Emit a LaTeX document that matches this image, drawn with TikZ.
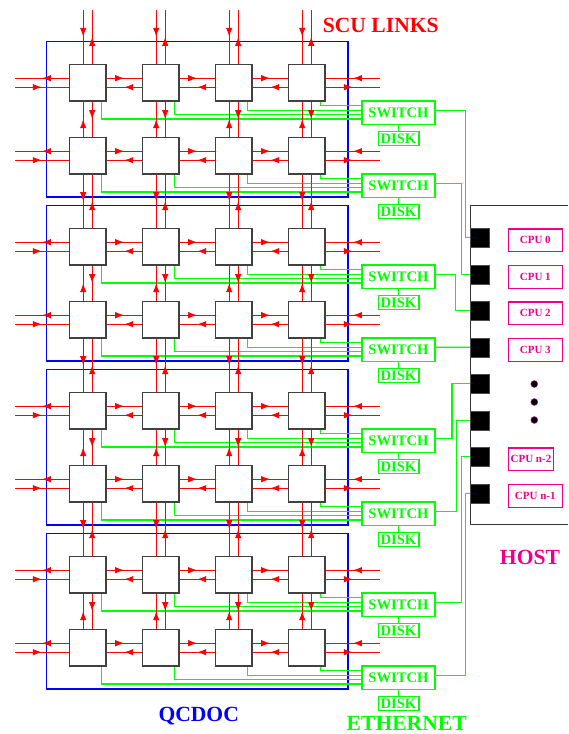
\documentclass[tikz,border=0pt]{standalone}
\usepackage{fontspec}
\setmainfont{Liberation Serif}
\usetikzlibrary{positioning,fit,calc,arrows.meta,decorations.markings}
\tikzset{cell/.style={draw=black!75,fill=white,line width=1.3pt,minimum size=36.7pt,inner sep=0pt},
         scu/.style={red,line width=1pt,postaction={decorate},
           decoration={markings,mark=at position .5 with {\arrow[red,line width=1pt]{Latex[length=9pt,width=6.5pt]}}}},
         eth/.style={green,line width=1.3pt},
         board/.style={draw=blue,line width=1.3pt,inner sep=22.3pt},
         switchbox/.style={draw=green,line width=1.3pt,text=green,fill=white,inner sep=0pt,
           font=\fontsize{14.6}{16}\selectfont\bfseries,minimum width=73pt,minimum height=23.3pt},
         diskbox/.style={draw=green,line width=1.3pt,text=green,inner sep=0pt,
           font=\fontsize{14.6}{16}\selectfont\bfseries,minimum width=40.7pt,minimum height=14pt},
         hostport/.style={fill=black,draw=black!70,minimum size=19pt,inner sep=0pt},
         cpubox/.style={draw=magenta,line width=1.2pt,text=magenta,inner sep=0pt,
           font=\fontsize{11}{12}\selectfont\bfseries,minimum width=54.4pt,minimum height=22.7pt},
         dotnode/.style={circle,fill=black,draw=magenta,minimum size=7pt,inner sep=0pt},
         bigtext/.style={font=\fontsize{21.6}{24}\selectfont\bfseries,anchor=base}
}

\begin{document}
\begin{tikzpicture}[x=1pt,y=-1pt]
\useasboundingbox (0,0) rectangle (568,734);

% nodes, two rows per board, one switch per row
\foreach \R [evaluate=\R as \yc using {82.7+164*floor(\R/2)+73*mod(\R,2)}] in {0,...,7}{
  \foreach \c in {0,...,3}{
    \node[cell] (n\R\c) at ({87.7+73*\c},\yc) {};
  }
  \node[switchbox] (sw\R) at (398.5,\yc+30) {SWITCH};
  \node[diskbox,below=5.7pt of sw\R] (dk\R) {DISK};
  \draw[eth] (sw\R) -- (dk\R);
}

% boards
\foreach \b [evaluate=\b as \bt using int(2*\b), evaluate=\b as \bb using int(2*\b+1)] in {0,...,3}{
  \node[board,fit=(n\bt0)(n\bb3)] (qc\b) {};
}

% ethernet to the switches
\foreach \R in {0,...,7}{
  \foreach \c [evaluate=\c as \dy using {4.4*\c-6.3}] in {0,...,3}{
    \draw[eth] ([xshift=13.6pt]n\R\c.south) |- ([yshift=\dy pt]sw\R.west);
  }
}

% scu links, rows
\foreach \R in {0,...,7}{
  \coordinate (lft\R) at (15,0 |- n\R0);
  \coordinate (rgt\R) at (380,0 |- n\R3);
  \draw[scu] ([yshift=4.5pt]n\R0.west) -- ([yshift=4.5pt]lft\R);
  \draw[scu] ([yshift=-4.5pt]lft\R) -- ([yshift=-4.5pt]n\R0.west);
  \foreach \c [evaluate=\c as \cn using int(\c+1)] in {0,1,2}{
    \draw[scu] ([yshift=4.5pt]n\R\c.east) -- ([yshift=4.5pt]n\R\cn.west);
    \draw[scu] ([yshift=-4.5pt]n\R\cn.west) -- ([yshift=-4.5pt]n\R\c.east);
  }
  \draw[scu] ([yshift=4.5pt]rgt\R) -- ([yshift=4.5pt]n\R3.east);
  \draw[scu] ([yshift=-4.5pt]n\R3.east) -- ([yshift=-4.5pt]rgt\R);
}

% scu links, columns
\foreach \c in {0,...,3}{
  \coordinate (top\c) at (n0\c.north |- 0,10);
  \draw[scu] ([xshift=-4.5pt]top\c) -- ([xshift=-4.5pt]n0\c.north);
  \draw[scu] ([xshift=4.5pt]n0\c.north) -- ([xshift=4.5pt]top\c);
  \foreach \R [evaluate=\R as \S using int(\R+1)] in {0,2,4,6}{
    \draw[scu] ([xshift=-4.5pt]n\S\c.north) -- ([xshift=-4.5pt]n\R\c.south);
    \draw[scu] ([xshift=4.5pt]n\R\c.south) -- ([xshift=4.5pt]n\S\c.north);
  }
  \foreach \R [evaluate=\R as \S using int(\R+1)] in {1,3,5}{
    \draw[scu] ([xshift=-4.5pt]n\R\c.south) -- ([xshift=-4.5pt]n\S\c.north);
    \draw[scu] ([xshift=4.5pt]n\S\c.north) -- ([xshift=4.5pt]n\R\c.south);
  }
}

% host
\draw[black!80,line width=1.2pt] (568,205.7) -- (470.7,205.7) -- (470.7,524.3) -- (568,524.3);
\foreach \k in {0,...,7}{
  \node[hostport] (p\k) at (479.5,{237.8+36.5*\k}) {};
}
\node[cpubox,right=18.3pt of p0,yshift=-2.5pt] (cpu0) {CPU 0};
\node[cpubox,right=18.3pt of p1,yshift=-2.5pt] (cpu1) {CPU 1};
\node[cpubox,right=18.3pt of p2,yshift=-2.5pt] (cpu2) {CPU 2};
\node[cpubox,right=18.3pt of p3,yshift=-2.5pt] (cpu3) {CPU 3};
\node[cpubox,minimum width=45.7pt,right=18.3pt of p6,yshift=-2.5pt] (cpun2) {CPU n-2};
\node[cpubox,right=18.3pt of p7,yshift=-2.5pt] (cpun1) {CPU n-1};
\foreach \y [count=\i] in {384,402,420}{
  \node[dotnode] (dt\i) at (534.3,\y) {};
}

% switches to host ports
\foreach \s/\dx in {0/4.3,1/8.3,2/14,4/17.7,5/13.3,6/8.3,7/4}{
  \draw[eth] ([yshift=2.5pt]sw\s.east) -| ([xshift=-\dx pt]p\s.west) -- (p\s.west);
}
\draw[eth] ([yshift=2.5pt]sw3.east) -- (p3.west);

\node[bigtext,red] (scutxt) at (380.8,32) {SCU LINKS};
\node[bigtext,magenta] (hosttxt) at (530,564.3) {HOST};
\node[bigtext,blue] (qcdoctxt) at (198.7,721) {QCDOC};
\node[bigtext,green] (ethtxt) at (406.7,730.5) {ETHERNET};
\end{tikzpicture}
\end{document}
